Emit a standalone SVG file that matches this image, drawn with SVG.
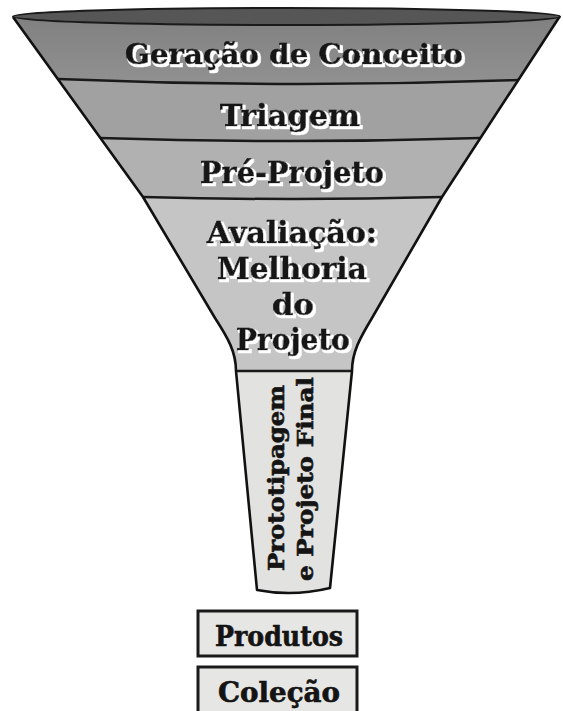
<svg xmlns="http://www.w3.org/2000/svg" width="563" height="711" viewBox="0 0 563 711">
<defs>
<filter id="sh" x="-10%" y="-30%" width="120%" height="160%">
<feMorphology in="SourceAlpha" operator="dilate" radius="0.8" result="d"/>
<feOffset in="d" dx="1.6" dy="1.6" result="o"/>
<feFlood flood-color="#ffffff"/>
<feComposite in2="o" operator="in" result="w"/>
<feMerge><feMergeNode in="w"/><feMergeNode in="SourceGraphic"/></feMerge>
</filter>
<linearGradient id="g1" x1="0" y1="0" x2="0" y2="1">
<stop offset="0" stop-color="#808080"/><stop offset="1" stop-color="#919191"/>
</linearGradient>
</defs>
<style>
.t{font-family:"DejaVu Serif","Liberation Serif",serif;font-weight:bold;fill:#141414;stroke:#141414;stroke-width:0.6;text-anchor:middle}
.sh{filter:url(#sh)}
.div{fill:none;stroke:#1a1a1a;stroke-width:2.5}
.box{fill:#e6e6e4;stroke:#1a1a1a;stroke-width:3}
</style>
<rect width="563" height="711" fill="#ffffff"/>

<g id="band-geracao">
<path d="M13,17 A273.5,8 0 0 0 560,16 L518,80 Q288,88.5 58,79 Z" fill="url(#g1)"/>
<text class="t sh" x="294" y="64" font-size="28" textLength="338" lengthAdjust="spacingAndGlyphs">Geração de Conceito</text>
</g>
<g id="band-triagem">
<path d="M58,79 Q288,88.5 518,80 L480,138 Q290,144 100,138 Z" fill="#a1a1a1"/>
<text class="t sh" x="290" y="126" font-size="29" textLength="140" lengthAdjust="spacingAndGlyphs">Triagem</text>
</g>
<g id="band-preprojeto">
<path d="M100,138 Q290,144 480,138 L442,197 Q292,201 143,197 Z" fill="#b1b1b1"/>
<text class="t sh" x="292" y="183" font-size="29" textLength="184" lengthAdjust="spacingAndGlyphs">Pré-Projeto</text>
</g>
<g id="band-avaliacao">
<path d="M143,197 Q292,201 442,197 L372,318 C360,338 352,352 352,371 L236,371 C236,352 228,338 215,318 Z" fill="#c5c5c5"/>
<text class="t sh" x="292" y="243" font-size="29" textLength="170" lengthAdjust="spacingAndGlyphs">Avaliação:</text>
<text class="t sh" x="292" y="279" font-size="29" textLength="150" lengthAdjust="spacingAndGlyphs">Melhoria</text>
<text class="t sh" x="293" y="315" font-size="29" textLength="42" lengthAdjust="spacingAndGlyphs">do</text>
<text class="t sh" x="293" y="350" font-size="29" textLength="114" lengthAdjust="spacingAndGlyphs">Projeto</text>
</g>
<g id="tube-prototipagem">
<path d="M236,371 L352,371 L330,588 Q293,597 257,590 Z" fill="#e2e2e0"/>
<text class="t" transform="translate(284,478) rotate(-90)" font-size="22" textLength="186" lengthAdjust="spacingAndGlyphs">Prototipagem</text>
<text class="t" transform="translate(313,479) rotate(-90)" font-size="22" textLength="204" lengthAdjust="spacingAndGlyphs">e Projeto Final</text>
</g>

<g id="outline">
<path class="div" d="M58,79 Q288,88.5 518,80"/>
<path class="div" d="M100,138 Q290,144 480,138"/>
<path class="div" d="M143,197 Q292,201 442,197"/>
<path class="div" d="M236,371 L352,371"/>
<path d="M13,17 L143,197 L215,318 C228,338 236,352 236,371 L257,590 Q293,597 330,588 L352,371 C352,352 360,338 372,318 L442,197 L560,16" fill="none" stroke="#111" stroke-width="2.6" stroke-linejoin="round"/>
</g>
<g id="rim">
<ellipse cx="286.5" cy="16.5" rx="273.5" ry="8.5" fill="#565656" stroke="#1a1a1a" stroke-width="2"/>
</g>

<g id="box-produtos">
<rect class="box" x="198" y="611" width="159" height="45"/>
<text class="t" x="279" y="646" font-size="27" textLength="128" lengthAdjust="spacingAndGlyphs">Produtos</text>
</g>
<g id="box-colecao">
<rect class="box" x="198" y="667" width="159" height="52"/>
<text class="t" x="279" y="702" font-size="27" textLength="122" lengthAdjust="spacingAndGlyphs">Coleção</text>
</g>
<g id="connectors"/>
</svg>
